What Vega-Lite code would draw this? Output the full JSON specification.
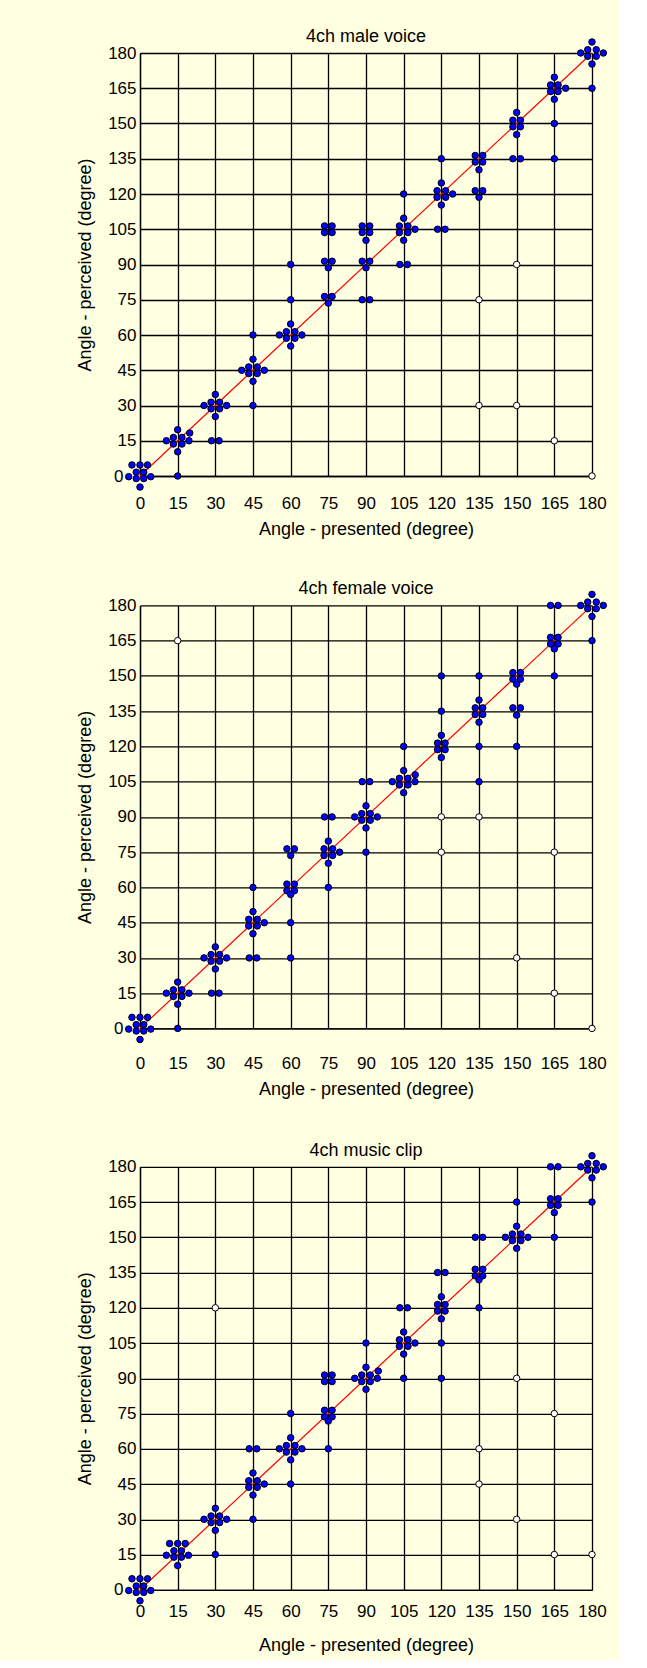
{
"$schema": "https://vega.github.io/schema/vega-lite/v6.json",
"background": "#FFFFE1",
"padding": {"left": 76, "top": 27, "right": 10, "bottom": 5},
"config": {"font": "Liberation Sans", "view": {"stroke": null}},
"spacing": 41.4,
"datasets": {
"male": [
{"x":-3.2,"y":4.7},{"x":0,"y":4.7},{"x":3,"y":4.7},{"x":-1.5,"y":1.6},{"x":1.5,"y":1.6},{"x":-4.5,"y":-0.3},{"x":4.3,"y":-0.3},{"x":-1.5,"y":-1.1},{"x":1.5,"y":-1.1},{"x":0,"y":-4.7},
{"x":15,"y":19.7},{"x":13.3,"y":16.4},{"x":16.7,"y":16.4},{"x":10.5,"y":15},{"x":19.5,"y":15},{"x":13.3,"y":13.6},{"x":16.7,"y":13.6},{"x":15,"y":10.3},{"x":19.8,"y":18.3},
{"x":15,"y":0},
{"x":30,"y":34.7},{"x":28.3,"y":31.4},{"x":31.7,"y":31.4},{"x":25.5,"y":30},{"x":34.5,"y":30},{"x":28.3,"y":28.6},{"x":31.7,"y":28.6},{"x":30,"y":25.3},
{"x":28.5,"y":15},{"x":31.5,"y":15},
{"x":45,"y":49.7},{"x":43.3,"y":46.4},{"x":46.7,"y":46.4},{"x":40.5,"y":45},{"x":49.5,"y":45},{"x":43.3,"y":43.6},{"x":46.7,"y":43.6},{"x":45,"y":40.3},
{"x":45,"y":60},{"x":45,"y":30},
{"x":60,"y":64.7},{"x":58.3,"y":61.4},{"x":61.7,"y":61.4},{"x":55.5,"y":60},{"x":64.5,"y":60},{"x":58.3,"y":58.6},{"x":61.7,"y":58.6},{"x":60,"y":55.3},
{"x":60,"y":75},{"x":60,"y":90},
{"x":73.5,"y":106.4},{"x":76.5,"y":106.4},{"x":73.5,"y":103.6},{"x":76.5,"y":103.6},
{"x":73.5,"y":91.4},{"x":76.5,"y":91.4},{"x":75,"y":88.6},
{"x":73.5,"y":76.4},{"x":76.5,"y":76.4},{"x":75,"y":73.6},
{"x":88.5,"y":106.4},{"x":91.5,"y":106.4},{"x":88.5,"y":103.6},{"x":91.5,"y":103.6},{"x":90,"y":100.3},
{"x":88.5,"y":91.4},{"x":91.5,"y":91.4},{"x":90,"y":88.6},
{"x":88.5,"y":75},{"x":91.5,"y":75},
{"x":105,"y":120},
{"x":105,"y":109.7},{"x":103.3,"y":106.4},{"x":106.7,"y":106.4},{"x":109.5,"y":105},{"x":103.3,"y":103.6},{"x":106.7,"y":103.6},{"x":105,"y":100.3},
{"x":103.5,"y":90},{"x":106.5,"y":90},
{"x":120,"y":135},
{"x":120,"y":124.7},{"x":118.3,"y":121.4},{"x":121.7,"y":121.4},{"x":124.5,"y":120},{"x":118.3,"y":118.6},{"x":121.7,"y":118.6},{"x":120,"y":115.3},
{"x":118.5,"y":105},{"x":121.5,"y":105},
{"x":133.5,"y":136.4},{"x":136.5,"y":136.4},{"x":133.5,"y":133.6},{"x":136.5,"y":133.6},{"x":135,"y":130.3},
{"x":133.5,"y":121.4},{"x":136.5,"y":121.4},{"x":135,"y":118.6},
{"x":135,"y":75,"k":"o"},{"x":135,"y":30,"k":"o"},
{"x":150,"y":154.7},{"x":148.5,"y":151.4},{"x":151.5,"y":151.4},{"x":148.5,"y":148.6},{"x":151.5,"y":148.6},{"x":150,"y":145.3},
{"x":148.5,"y":135},{"x":151.5,"y":135},
{"x":150,"y":90,"k":"o"},{"x":150,"y":30,"k":"o"},
{"x":165,"y":169.7},{"x":163.5,"y":166.4},{"x":166.5,"y":166.4},{"x":163.5,"y":163.6},{"x":166.5,"y":163.6},{"x":165,"y":160.3},{"x":169.5,"y":165},
{"x":165,"y":150},{"x":165,"y":135},{"x":165,"y":15,"k":"o"},
{"x":180,"y":184.7},{"x":178.3,"y":181.4},{"x":181.7,"y":181.4},{"x":175.5,"y":180},{"x":184.5,"y":180},{"x":178.3,"y":178.6},{"x":181.7,"y":178.6},{"x":180,"y":175.3},
{"x":180,"y":165},{"x":180,"y":0,"k":"o"}
],
"female": [
{"x":-3.2,"y":4.7},{"x":0,"y":4.7},{"x":3,"y":4.7},{"x":-1.5,"y":1.6},{"x":1.5,"y":1.6},{"x":-4.5,"y":-0.3},{"x":4.3,"y":-0.3},{"x":-1.5,"y":-1.1},{"x":1.5,"y":-1.1},{"x":0,"y":-4.7},
{"x":15,"y":19.7},{"x":13.3,"y":16.4},{"x":16.7,"y":16.4},{"x":10.5,"y":15},{"x":19.5,"y":15},{"x":13.3,"y":13.6},{"x":16.7,"y":13.6},{"x":15,"y":10.3},
{"x":15,"y":0},{"x":15,"y":165,"k":"o"},
{"x":30,"y":34.7},{"x":28.3,"y":31.4},{"x":31.7,"y":31.4},{"x":25.5,"y":30},{"x":34.5,"y":30},{"x":28.3,"y":28.6},{"x":31.7,"y":28.6},{"x":30,"y":25.3},
{"x":28.5,"y":15},{"x":31.5,"y":15},
{"x":45,"y":49.7},{"x":43.3,"y":46.4},{"x":46.7,"y":46.4},{"x":49.5,"y":45},{"x":43.3,"y":43.6},{"x":46.7,"y":43.6},{"x":45,"y":40.3},
{"x":45,"y":60},{"x":43.5,"y":30},{"x":46.5,"y":30},
{"x":58.5,"y":76.4},{"x":61.5,"y":76.4},{"x":60,"y":73.6},
{"x":58.5,"y":61.4},{"x":61.5,"y":61.4},{"x":58.5,"y":58.6},{"x":61.5,"y":58.6},{"x":60,"y":57},
{"x":60,"y":45},{"x":60,"y":30},
{"x":73.5,"y":90},{"x":76.5,"y":90},
{"x":75,"y":79.7},{"x":73.3,"y":76.4},{"x":76.7,"y":76.4},{"x":79.5,"y":75},{"x":73.3,"y":73.6},{"x":76.7,"y":73.6},{"x":75,"y":70.3},
{"x":75,"y":60},
{"x":88.5,"y":105},{"x":91.5,"y":105},
{"x":90,"y":94.7},{"x":88.3,"y":91.4},{"x":91.7,"y":91.4},{"x":85.5,"y":90},{"x":94.5,"y":90},{"x":88.3,"y":88.6},{"x":91.7,"y":88.6},{"x":90,"y":85.3},
{"x":90,"y":75},
{"x":105,"y":120},
{"x":105,"y":109.7},{"x":103.3,"y":106.4},{"x":106.7,"y":106.4},{"x":100.5,"y":105},{"x":109.5,"y":105},{"x":103.3,"y":103.6},{"x":106.7,"y":103.6},{"x":105,"y":100.3},{"x":109.6,"y":107.9},
{"x":120,"y":150},{"x":120,"y":135},
{"x":120,"y":124.7},{"x":118.5,"y":121.4},{"x":121.5,"y":121.4},{"x":118.5,"y":118.6},{"x":121.5,"y":118.6},{"x":120,"y":115.3},
{"x":120,"y":90,"k":"o"},{"x":120,"y":75,"k":"o"},
{"x":135,"y":150},
{"x":135,"y":139.7},{"x":133.5,"y":136.4},{"x":136.5,"y":136.4},{"x":133.5,"y":133.6},{"x":136.5,"y":133.6},{"x":135,"y":130.3},
{"x":135,"y":120},{"x":135,"y":105},{"x":135,"y":90,"k":"o"},
{"x":148.5,"y":151.4},{"x":151.5,"y":151.4},{"x":148.5,"y":148.6},{"x":151.5,"y":148.6},{"x":150,"y":146.5},
{"x":148.5,"y":136.4},{"x":151.5,"y":136.4},{"x":150,"y":133.3},
{"x":150,"y":120},{"x":150,"y":30,"k":"o"},
{"x":163.5,"y":180},{"x":166.5,"y":180},
{"x":163.5,"y":166.4},{"x":166.5,"y":166.4},{"x":163.5,"y":163.6},{"x":166.5,"y":163.6},{"x":165,"y":161.5},
{"x":165,"y":150},{"x":165,"y":75,"k":"o"},{"x":165,"y":15,"k":"o"},
{"x":180,"y":184.7},{"x":178.3,"y":181.4},{"x":181.7,"y":181.4},{"x":175.5,"y":180},{"x":184.5,"y":180},{"x":178.3,"y":178.6},{"x":181.7,"y":178.6},{"x":180,"y":175.3},
{"x":180,"y":165},{"x":180,"y":0,"k":"o"}
],
"music": [
{"x":-3.2,"y":4.7},{"x":0,"y":4.7},{"x":3,"y":4.7},{"x":-1.5,"y":1.6},{"x":1.5,"y":1.6},{"x":-4.5,"y":-0.3},{"x":4.3,"y":-0.3},{"x":-1.5,"y":-1.1},{"x":1.5,"y":-1.1},{"x":0,"y":-4.7},
{"x":11.8,"y":19.7},{"x":15,"y":19.7},{"x":18,"y":19.7},{"x":13.5,"y":16.6},{"x":16.5,"y":16.6},{"x":10.5,"y":14.7},{"x":19.3,"y":14.7},{"x":13.5,"y":13.9},{"x":16.5,"y":13.9},{"x":15,"y":10.3},
{"x":30,"y":34.7},{"x":28.3,"y":31.4},{"x":31.7,"y":31.4},{"x":25.5,"y":30},{"x":34.5,"y":30},{"x":28.3,"y":28.6},{"x":31.7,"y":28.6},{"x":30,"y":25.3},
{"x":30,"y":15},{"x":30,"y":120,"k":"o"},
{"x":43.5,"y":60},{"x":46.5,"y":60},
{"x":45,"y":49.7},{"x":43.3,"y":46.4},{"x":46.7,"y":46.4},{"x":49.5,"y":45},{"x":43.3,"y":43.6},{"x":46.7,"y":43.6},{"x":45,"y":40.3},
{"x":45,"y":30},
{"x":60,"y":75},
{"x":60,"y":64.7},{"x":58.3,"y":61.4},{"x":61.7,"y":61.4},{"x":55.5,"y":60},{"x":64.5,"y":60},{"x":58.3,"y":58.6},{"x":61.7,"y":58.6},{"x":60,"y":55.3},
{"x":60,"y":45},
{"x":73.5,"y":91.4},{"x":76.5,"y":91.4},{"x":73.5,"y":88.6},{"x":76.5,"y":88.6},
{"x":73.5,"y":76.4},{"x":76.5,"y":76.4},{"x":73.5,"y":73.6},{"x":76.5,"y":73.6},{"x":75,"y":71.8},
{"x":75,"y":60},
{"x":90,"y":105},
{"x":90,"y":94.7},{"x":88.3,"y":91.4},{"x":91.7,"y":91.4},{"x":85.5,"y":90},{"x":94.5,"y":90},{"x":88.3,"y":88.6},{"x":91.7,"y":88.6},{"x":90,"y":85.3},{"x":94.9,"y":93.1},
{"x":103.5,"y":120},{"x":106.5,"y":120},
{"x":105,"y":109.7},{"x":103.3,"y":106.4},{"x":106.7,"y":106.4},{"x":109.5,"y":105},{"x":103.3,"y":103.6},{"x":106.7,"y":103.6},{"x":105,"y":100.3},
{"x":105,"y":90},
{"x":118.5,"y":135},{"x":121.5,"y":135},
{"x":120,"y":124.7},{"x":118.5,"y":121.4},{"x":121.5,"y":121.4},{"x":118.5,"y":118.6},{"x":121.5,"y":118.6},{"x":120,"y":115.3},
{"x":120,"y":105},{"x":120,"y":90},
{"x":133.5,"y":150},{"x":136.5,"y":150},
{"x":133.5,"y":136.4},{"x":136.5,"y":136.4},{"x":133.5,"y":133.6},{"x":136.5,"y":133.6},{"x":135,"y":131.9},
{"x":135,"y":120},{"x":135,"y":60,"k":"o"},{"x":135,"y":45,"k":"o"},
{"x":150,"y":165},
{"x":150,"y":154.7},{"x":148.3,"y":151.4},{"x":151.7,"y":151.4},{"x":145.5,"y":150},{"x":154.5,"y":150},{"x":148.3,"y":148.6},{"x":151.7,"y":148.6},{"x":150,"y":145.3},
{"x":150,"y":90,"k":"o"},{"x":150,"y":30,"k":"o"},
{"x":163.5,"y":180},{"x":166.5,"y":180},
{"x":163.5,"y":166.4},{"x":166.5,"y":166.4},{"x":163.5,"y":163.6},{"x":166.5,"y":163.6},{"x":165,"y":160.5},
{"x":165,"y":150},{"x":165,"y":75,"k":"o"},{"x":165,"y":15,"k":"o"},
{"x":180,"y":184.7},{"x":178.3,"y":181.4},{"x":181.7,"y":181.4},{"x":175.5,"y":180},{"x":184.5,"y":180},{"x":178.3,"y":178.6},{"x":181.7,"y":178.6},{"x":180,"y":175.3},
{"x":180,"y":165},{"x":180,"y":15,"k":"o"}
],
"diag": [{"x":0,"y":0},{"x":180,"y":180}]
},
"vconcat": [
{
"title": {"text": "4ch male voice", "fontSize": 18, "fontWeight": "normal", "color": "black", "anchor": "middle", "frame": "group", "offset": -9},
"width": 452, "height": 423,
"data": {"name": "male"},
"encoding": {
"x": {"field": "x", "type": "quantitative", "scale": {"domain": [0, 180], "nice": false, "zero": false},
 "axis": {"values": [0,15,30,45,60,75,90,105,120,135,150,165,180], "title": "Angle - presented (degree)", "grid": true, "gridColor": "#000", "gridWidth": 1.3, "gridOpacity": 1, "domainColor": "#000", "domainWidth": 1.3, "ticks": false, "labelFontSize": 17, "labelColor": "#000", "labelFlush": false, "labelOverlap": false, "labelPadding": 19, "titleFontSize": 18, "titleFontWeight": "normal", "titleColor": "#000", "titlePadding": 9}},
"y": {"field": "y", "type": "quantitative", "scale": {"domain": [0, 180], "nice": false, "zero": false},
 "axis": {"values": [0,15,30,45,60,75,90,105,120,135,150,165,180], "title": "Angle - perceived (degree)", "grid": true, "gridColor": "#000", "gridWidth": 1.3, "gridOpacity": 1, "domainColor": "#000", "domainWidth": 1.3, "ticks": false, "labelFontSize": 17, "labelColor": "#000", "labelFlush": false, "labelOverlap": false, "labelPadding": {"condition": {"test": "datum.value === 0", "value": 17}, "value": 4}, "titleFontSize": 18, "titleFontWeight": "normal", "titleColor": "#000", "titlePadding": 13}}
},
"layer": [
{"data": {"name": "diag"}, "mark": {"type": "line", "color": "#FF0000", "strokeWidth": 1.2}},
{"mark": {"type": "circle", "size": 42, "opacity": 1, "stroke": "#000", "strokeWidth": 1},
 "encoding": {"fill": {"condition": {"test": "datum.k === 'o'", "value": "#FFFFFF"}, "value": "#0000FF"}}}
]
},
{
"title": {"text": "4ch female voice", "fontSize": 18, "fontWeight": "normal", "color": "black", "anchor": "middle", "frame": "group", "offset": -9},
"width": 452, "height": 423,
"data": {"name": "female"},
"encoding": {
"x": {"field": "x", "type": "quantitative", "scale": {"domain": [0, 180], "nice": false, "zero": false},
 "axis": {"values": [0,15,30,45,60,75,90,105,120,135,150,165,180], "title": "Angle - presented (degree)", "grid": true, "gridColor": "#000", "gridWidth": 1.3, "gridOpacity": 1, "domainColor": "#000", "domainWidth": 1.3, "ticks": false, "labelFontSize": 17, "labelColor": "#000", "labelFlush": false, "labelOverlap": false, "labelPadding": 27.5, "titleFontSize": 18, "titleFontWeight": "normal", "titleColor": "#000", "titlePadding": 9}},
"y": {"field": "y", "type": "quantitative", "scale": {"domain": [0, 180], "nice": false, "zero": false},
 "axis": {"values": [0,15,30,45,60,75,90,105,120,135,150,165,180], "title": "Angle - perceived (degree)", "grid": true, "gridColor": "#000", "gridWidth": 1.3, "gridOpacity": 1, "domainColor": "#000", "domainWidth": 1.3, "ticks": false, "labelFontSize": 17, "labelColor": "#000", "labelFlush": false, "labelOverlap": false, "labelPadding": {"condition": {"test": "datum.value === 0", "value": 17}, "value": 4}, "titleFontSize": 18, "titleFontWeight": "normal", "titleColor": "#000", "titlePadding": 13}}
},
"layer": [
{"data": {"name": "diag"}, "mark": {"type": "line", "color": "#FF0000", "strokeWidth": 1.2}},
{"mark": {"type": "circle", "size": 42, "opacity": 1, "stroke": "#000", "strokeWidth": 1},
 "encoding": {"fill": {"condition": {"test": "datum.k === 'o'", "value": "#FFFFFF"}, "value": "#0000FF"}}}
]
},
{
"title": {"text": "4ch music clip", "fontSize": 18, "fontWeight": "normal", "color": "black", "anchor": "middle", "frame": "group", "offset": -9},
"width": 452, "height": 423,
"data": {"name": "music"},
"encoding": {
"x": {"field": "x", "type": "quantitative", "scale": {"domain": [0, 180], "nice": false, "zero": false},
 "axis": {"values": [0,15,30,45,60,75,90,105,120,135,150,165,180], "title": "Angle - presented (degree)", "grid": true, "gridColor": "#000", "gridWidth": 1.3, "gridOpacity": 1, "domainColor": "#000", "domainWidth": 1.3, "ticks": false, "labelFontSize": 17, "labelColor": "#000", "labelFlush": false, "labelOverlap": false, "labelPadding": 13.5, "titleFontSize": 18, "titleFontWeight": "normal", "titleColor": "#000", "titlePadding": 17}},
"y": {"field": "y", "type": "quantitative", "scale": {"domain": [0, 180], "nice": false, "zero": false},
 "axis": {"values": [0,15,30,45,60,75,90,105,120,135,150,165,180], "title": "Angle - perceived (degree)", "grid": true, "gridColor": "#000", "gridWidth": 1.3, "gridOpacity": 1, "domainColor": "#000", "domainWidth": 1.3, "ticks": false, "labelFontSize": 17, "labelColor": "#000", "labelFlush": false, "labelOverlap": false, "labelPadding": {"condition": {"test": "datum.value === 0", "value": 17}, "value": 4}, "titleFontSize": 18, "titleFontWeight": "normal", "titleColor": "#000", "titlePadding": 13}}
},
"layer": [
{"data": {"name": "diag"}, "mark": {"type": "line", "color": "#FF0000", "strokeWidth": 1.2}},
{"mark": {"type": "circle", "size": 42, "opacity": 1, "stroke": "#000", "strokeWidth": 1},
 "encoding": {"fill": {"condition": {"test": "datum.k === 'o'", "value": "#FFFFFF"}, "value": "#0000FF"}}}
]
}
]
}
